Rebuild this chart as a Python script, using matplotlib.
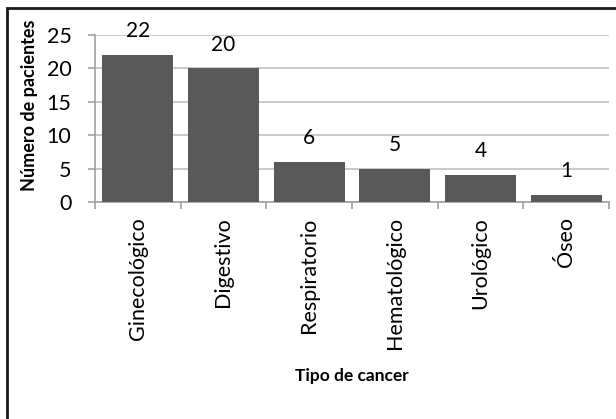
import matplotlib
matplotlib.use("Agg")
import matplotlib.pyplot as plt
from matplotlib.patches import Rectangle

categories = ["Ginecológico", "Digestivo", "Respiratorio", "Hematológico", "Urológico", "Óseo"]
values = [22, 20, 6, 5, 4, 1]
yticks = [0, 5, 10, 15, 20, 25]

plt.rcParams['font.family'] = ['Lato', 'DejaVu Sans']

W, H = 616, 419
fig = plt.figure(figsize=(W/100, H/100), dpi=100)
ax = fig.add_axes([95/W, 1-202/H, (609-95)/W, (202-35)/H])

x = list(range(len(categories)))
ax.bar(x, values, width=0.83, color='#595959', zorder=3)
ax.set_xlim(-0.5, len(categories)-0.5)
ax.set_ylim(0, 25)
ax.set_yticks(yticks)
ax.set_yticklabels([str(t) for t in yticks], fontsize=15.5)
ax.yaxis.grid(True, color='#c0c0c0', linewidth=1.2, zorder=0)
ax.set_axisbelow(True)

ax.set_xticks([i + 0.5 for i in range(-1, len(categories))], minor=False)
ax.set_xticklabels([''] * (len(categories)+1))
ax.tick_params(axis='x', which='major', length=5, color='#a0a0a0', width=1.2)
ax.set_xticks(x, minor=True)
ax.set_xticklabels(categories, minor=True, rotation=90, fontsize=15.5, va='top', ha='center')
ax.tick_params(axis='x', which='minor', length=0, pad=11)
ax.tick_params(axis='y', length=5, color='#a0a0a0', width=1.2, pad=12)

for s in ['top', 'right']:
    ax.spines[s].set_visible(False)
for s in ['left', 'bottom']:
    ax.spines[s].set_color('#a0a0a0')
    ax.spines[s].set_linewidth(1.2)

for xi, v in zip(x, values):
    ax.annotate(str(v), (xi, v), xytext=(0, 10), textcoords='offset points',
                ha='center', va='bottom', fontsize=15)

fig.text(30/W, 1-105/H, 'Número de pacientes', ha='center', va='center', rotation=90,
         fontsize=13, fontweight='bold')
fig.text(352/W, 1-376/H, 'Tipo de cancer', ha='center', va='center', fontsize=12.5, fontweight='bold')

fig.patches.append(Rectangle((7/W, -0.1), 1.2, 1-8/H+0.1, transform=fig.transFigure,
                             fill=False, edgecolor='#1a1a1a', linewidth=2))

fig.savefig('out.png', dpi=100)
